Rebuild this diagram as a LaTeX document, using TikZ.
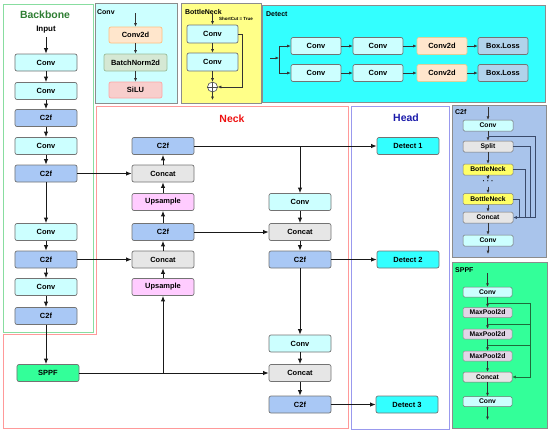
\documentclass[tikz,border=0pt]{standalone}
\usepackage{fontspec}
\setmainfont{Liberation Sans}
\usetikzlibrary{arrows.meta}
\definecolor{convc}{HTML}{CCFFFF}
\definecolor{c2fc}{HTML}{A9C8F5}
\definecolor{catc}{HTML}{E6E6E6}
\definecolor{upc}{HTML}{FFCCFF}
\definecolor{detc}{HTML}{33FFFF}
\definecolor{sppfc}{HTML}{33FF99}
\definecolor{c2dc}{HTML}{FFE6CC}
\definecolor{bnc}{HTML}{D5E8D4}
\definecolor{siluc}{HTML}{F8CECC}
\definecolor{yelc}{HTML}{FFFF88}
\definecolor{bnyc}{HTML}{FFFF66}
\definecolor{mpc}{HTML}{E1D5E7}
\definecolor{lossc}{HTML}{B1D3EB}
\definecolor{c2fbox}{HTML}{A9C4EB}
\definecolor{bbgreen}{HTML}{88DDA0}
\definecolor{neckred}{HTML}{FF9999}
\definecolor{headblue}{HTML}{9999EE}
\definecolor{ttlgreen}{HTML}{2E7D32}
\definecolor{ttlred}{HTML}{EE1111}
\definecolor{ttlblue}{HTML}{1A1AAA}
\definecolor{c2fline}{HTML}{3A4A6A}
\definecolor{sppfline}{HTML}{1E6B3A}
\tikzset{
  blk/.style={draw=black!55, line width=0.7bp, rounded corners=2bp, inner sep=0pt,
    minimum width=62bp, minimum height=17bp, font=\fontsize{7.5}{8}\selectfont\bfseries},
  sblk/.style={blk, minimum width=50bp},
  tblk/.style={blk, minimum width=50bp, minimum height=11bp, rounded corners=1.5bp,
    line width=0.5bp, font=\fontsize{6.8}{7}\selectfont\bfseries},
  arr/.style={draw=black!90, line width=1bp, -{Latex[length=5.5bp,width=4.5bp]}},
  sarr/.style={draw=black!80, line width=0.6bp, -{Latex[length=3.5bp,width=3bp]}},
  sln/.style={draw=black!80, line width=0.6bp},
  boxlbl/.style={anchor=west, inner sep=0pt, font=\fontsize{7}{8}\selectfont\bfseries},
  detbox/.style={draw=black!45, line width=0.7bp},
  title/.style={font=\fontsize{10.5}{12}\selectfont\bfseries},
}
\begin{document}
\begin{tikzpicture}[x=1bp,y=-1bp]
\useasboundingbox (0,0) rectangle (550,432);
% region boxes
\draw[bbgreen, line width=1bp] (3,4) rectangle (93,332);
\draw[neckred, line width=1bp] (96,106) -- (348,106) -- (348,428) -- (3,428) -- (3,334) -- (96,334) -- cycle;
\draw[headblue, line width=1bp] (351,106) rectangle (449,429);
\node[title, text=ttlgreen] (tbb) at (45,15) {Backbone};
\node[title, text=ttlred] (tnk) at (232,119) {Neck};
\node[title, text=ttlblue] (thd) at (406,118) {Head};

% backbone
\node[font=\fontsize{8}{9}\selectfont\bfseries] (bin) at (46,30) {Input};
\node[blk, fill=convc] (b1) at (46,62.5) {Conv};
\node[blk, fill=convc] (b2) at (46,91) {Conv};
\node[blk, fill=c2fc] (b3) at (46,118) {C2f};
\node[blk, fill=convc] (b4) at (46,146) {Conv};
\node[blk, fill=c2fc] (b5) at (46,173.5) {C2f};
\node[blk, fill=convc] (b6) at (46,232) {Conv};
\node[blk, fill=c2fc] (b7) at (46,259.5) {C2f};
\node[blk, fill=convc] (b8) at (46,287) {Conv};
\node[blk, fill=c2fc] (b9) at (46,316) {C2f};
\node[blk, fill=sppfc] (sppf) at (48,373) {SPPF};
\draw[arr] (bin) -- (b1);
\draw[arr] (b1) -- (b2);
\draw[arr] (b2) -- (b3);
\draw[arr] (b3) -- (b4);
\draw[arr] (b4) -- (b5);
\draw[arr] (b5) -- (b6);
\draw[arr] (b6) -- (b7);
\draw[arr] (b7) -- (b8);
\draw[arr] (b8) -- (b9);
\draw[arr] (b9.south) -- (b9.south |- sppf.north);

% neck left column
\node[blk, fill=c2fc] (n1) at (163,146) {C2f};
\node[blk, fill=catc] (n2) at (163,173.5) {Concat};
\node[blk, fill=upc] (n3) at (163,202) {Upsample};
\node[blk, fill=c2fc] (n4) at (163,232) {C2f};
\node[blk, fill=catc] (n5) at (163,259.5) {Concat};
\node[blk, fill=upc] (n6) at (163,287) {Upsample};
% neck right column
\node[blk, fill=convc] (r1) at (300,202) {Conv};
\node[blk, fill=catc] (r2) at (300,232) {Concat};
\node[blk, fill=c2fc] (r3) at (300,259.5) {C2f};
\node[blk, fill=convc] (r4) at (300,343.5) {Conv};
\node[blk, fill=catc] (r5) at (300,373) {Concat};
\node[blk, fill=c2fc] (r6) at (300,404.5) {C2f};
% head
\node[blk, fill=detc] (d1) at (408,146) {Detect 1};
\node[blk, fill=detc] (d2) at (408,259.5) {Detect 2};
\node[blk, fill=detc] (d3) at (407,404.5) {Detect 3};

\draw[arr] (b5.east) -- (b5.east -| n2.west);
\draw[arr] (b7.east) -- (b7.east -| n5.west);
\draw[arr] (sppf.east) -- (sppf.east -| r5.west);
\coordinate (spj) at (n6.south |- sppf.east);
\draw[arr] (spj) -- (n6.south);
\draw[arr] (n6) -- (n5);
\draw[arr] (n5) -- (n4);
\draw[arr] (n4) -- (n3);
\draw[arr] (n3) -- (n2);
\draw[arr] (n2) -- (n1);
\draw[arr] (n1.east) -- (n1.east -| d1.west);
\coordinate (n1j) at (n1.east -| r1.north);
\draw[arr] (n1j) -- (r1.north);
\draw[arr] (n4.east) -- (n4.east -| r2.west);
\draw[arr] (r1) -- (r2);
\draw[arr] (r2) -- (r3);
\draw[arr] (r3.east) -- (r3.east -| d2.west);
\draw[arr] (r3) -- (r4);
\draw[arr] (r4) -- (r5);
\draw[arr] (r5) -- (r6);
\draw[arr] (r6.east) -- (r6.east -| d3.west);

% ---- Conv detail box
\draw[detbox, fill=convc] (95,3) rectangle (177,103);
\node[boxlbl] (lconv) at (97,12) {Conv};
\node[sblk, fill=c2dc, draw=orange!50, minimum width=53bp, minimum height=16bp] (cc1) at (135.5,35) {Conv2d};
\node[sblk, fill=bnc, draw=green!35!black!40, minimum width=63bp] (cc2) at (135.5,62.5) {BatchNorm2d};
\node[sblk, fill=siluc, draw=red!35, minimum width=53bp, minimum height=16bp] (cc3) at (135.5,90) {SiLU};
\coordinate (ccin) at (135.5,13);
\draw[sarr] (ccin) -- (cc1);
\draw[sarr] (cc1) -- (cc2);
\draw[sarr] (cc2) -- (cc3);

% ---- BottleNeck detail box
\draw[detbox, fill=yelc] (181,3) rectangle (261,103);
\node[boxlbl] (lbn) at (185,12) {BottleNeck};
\node[font=\fontsize{4.5}{5}\selectfont\bfseries, inner sep=0pt] (sct) at (236,19) {ShortCut = True};
\node[sblk, fill=convc, minimum width=51bp, minimum height=18bp] (bn1) at (212.5,34) {Conv};
\node[sblk, fill=convc, minimum width=51bp, minimum height=18bp] (bn2) at (212.5,62) {Conv};
\node[circle, draw=black!70, fill=white, line width=0.6bp, minimum size=10bp, inner sep=0pt] (plus) at (212.5,87) {};
\draw[line width=0.6bp, black!70] (plus.north) -- (plus.south) (plus.west) -- (plus.east);
\coordinate (bnin) at (212.5,14);
\coordinate (bnout) at (212.5,100);
\draw[sarr] (bnin) -- (bn1);
\draw[sarr] (bn1) -- (bn2);
\draw[sarr] (bn2) -- (plus);
\draw[sarr] (plus) -- (bnout);
\draw[sarr] (bn1.east) -- ++(4,0) |- (plus.east);

% ---- Detect detail box
\draw[detbox, fill=detc] (262,5) rectangle (545,102);
\node[boxlbl] (ldet) at (266,14) {Detect};
\node[sblk, fill=convc] (dt1) at (316,46) {Conv};
\node[sblk, fill=convc] (dt2) at (378,46) {Conv};
\node[sblk, fill=c2dc, draw=orange!50!yellow!70!black!40] (dt3) at (442,46) {Conv2d};
\node[sblk, fill=lossc] (dt4) at (503,46) {Box.Loss};
\node[sblk, fill=convc] (dt5) at (316,73) {Conv};
\node[sblk, fill=convc] (dt6) at (378,73) {Conv};
\node[sblk, fill=c2dc, draw=orange!50!yellow!70!black!40] (dt7) at (442,73) {Conv2d};
\node[sblk, fill=lossc] (dt8) at (503,73) {Box.Loss};
\coordinate (din) at (270,58);
\coordinate (dsp) at (279,58);
\draw[sarr] (din) -- (dsp);
\draw[sarr] (dsp) |- (dt1.west);
\draw[sarr] (dsp) |- (dt5.west);
\draw[sarr] (dt1) -- (dt2);
\draw[sarr] (dt2) -- (dt3);
\draw[sarr] (dt3) -- (dt4);
\draw[sarr] (dt5) -- (dt6);
\draw[sarr] (dt6) -- (dt7);
\draw[sarr] (dt7) -- (dt8);

% ---- C2f detail box
\draw[detbox, fill=c2fbox] (452,105) rectangle (546,257);
\node[boxlbl] (lc2f) at (455,112) {C2f};
\node[tblk, fill=convc] (ca) at (488,125.5) {Conv};
\node[tblk, fill=catc] (cb) at (488,146.5) {Split};
\node[tblk, fill=bnyc, draw=black!50] (cc) at (488,169.5) {BottleNeck};
\node[font=\fontsize{7}{7}\selectfont\bfseries, inner sep=0pt] (cdots) at (488,182.5) {· · ·};
\node[tblk, fill=bnyc, draw=black!50] (cd) at (488,199) {BottleNeck};
\node[tblk, fill=catc] (ce) at (488,217.5) {Concat};
\node[tblk, fill=convc] (cf) at (488,240.5) {Conv};
\coordinate (cin) at (488,107);
\coordinate (cout) at (488,254);
\coordinate (cdt) at (488,179.5);
\coordinate (cdb) at (488,186.5);
\coordinate (csp) at (488,136.5);
\draw[sarr] (cin) -- (ca);
\draw[sarr] (ca) -- (cb);
\draw[sarr] (cb) -- (cc);
\draw[sarr] (cc) -- (cdt);
\draw[sarr] (cdb) -- (cd);
\draw[sarr] (cd) -- (ce);
\draw[sarr] (ce) -- (cf);
\draw[sarr] (cf) -- (cout);
\draw[sarr, draw=c2fline] (csp) -- (535,136.5) -- (535,217.5) -- (ce.east);
\draw[sln, draw=c2fline] (cb.east) -| (530,217.5);
\draw[sln, draw=c2fline] (cc.east) -| (525,217.5);
\draw[sln, draw=c2fline] (cd.east) -| (519,217.5);

% ---- SPPF detail box
\draw[detbox, fill=sppfc] (452,262) rectangle (547,428);
\node[boxlbl] (lsppf) at (455,270) {SPPF};
\node[tblk, fill=convc, minimum width=49bp, minimum height=10bp] (sa) at (487.5,292) {Conv};
\node[tblk, fill=mpc, draw=black!45, minimum width=49bp, minimum height=10bp] (sb) at (487.5,312.5) {MaxPool2d};
\node[tblk, fill=mpc, draw=black!45, minimum width=49bp, minimum height=10bp] (sc) at (487.5,334) {MaxPool2d};
\node[tblk, fill=mpc, draw=black!45, minimum width=49bp, minimum height=10bp] (sd) at (487.5,356) {MaxPool2d};
\node[tblk, fill=catc, minimum width=49bp, minimum height=10bp] (se) at (487.5,377) {Concat};
\node[tblk, fill=convc, minimum width=49bp, minimum height=10bp] (sf) at (487.5,401.5) {Conv};
\coordinate (sin) at (487.5,273);
\coordinate (sout) at (487.5,420);
\coordinate (sj1) at (487.5,303);
\coordinate (sj2) at (487.5,324);
\coordinate (sj3) at (487.5,345.5);
\draw[sarr] (sin) -- (sa);
\draw[sarr] (sa) -- (sb);
\draw[sarr] (sb) -- (sc);
\draw[sarr] (sc) -- (sd);
\draw[sarr] (sd) -- (se);
\draw[sarr] (se) -- (sf);
\draw[sarr] (sf) -- (sout);
\draw[sarr, draw=sppfline] (sj1) -- (530,303) -- (530,377) -- (se.east);
\draw[sln, draw=sppfline] (sj2) -- (530,324);
\draw[sln, draw=sppfline] (sj3) -- (530,345.5);
\end{tikzpicture}
\end{document}
